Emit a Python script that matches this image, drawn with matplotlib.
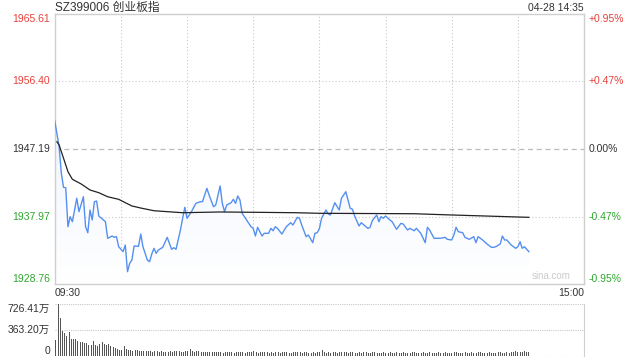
import numpy as np
import matplotlib.pyplot as plt
from matplotlib.colors import LinearSegmentedColormap
from matplotlib.transforms import blended_transform_factory

plt.rcParams['font.family'] = ['Liberation Sans', 'Noto Sans CJK SC', 'DejaVu Sans']

# header texts
title = 'SZ399006 创业板指'
stamp = '04-28 14:35'
start_label = '09:30'
end_label = '15:00'

# price axis (previous close in the middle)
prev_close = 1947.19
price_ticks = [1928.76, 1937.97, 1947.19, 1956.40, 1965.61]
pct_labels = ['-0.95%', '-0.47%', '0.00%', '+0.47%', '+0.95%']

# minute index (0 = 09:30, 240 = 15:00) and index value
price_min = [0, 2, 3, 4, 5, 6, 7, 8, 10, 11, 13, 14, 15, 16, 17, 18, 19, 20, 23, 24,
             26, 27, 28, 29, 31, 32, 33, 34, 35, 36, 38, 39, 40, 42, 43, 44, 45, 46, 47, 49,
             51, 53, 54, 55, 57, 58, 59, 60, 62, 64, 66, 67, 69, 70, 72, 73, 75, 76, 77, 78,
             80, 81, 82, 83, 84, 85, 87, 88, 89, 90, 91, 92, 93, 94, 95, 97, 98, 99, 100, 101,
             103, 105, 107, 108, 110, 111, 112, 114, 115, 117, 118, 119, 120, 121, 123, 124, 125, 127, 129, 130,
             132, 134, 135, 136, 138, 139, 142, 143, 144, 146, 147, 148, 149, 150, 152, 153, 155, 157, 158, 160,
             161, 163, 164, 166, 168, 169, 170, 172, 175, 177, 178, 180, 181, 182, 183, 185, 186, 188, 190, 191,
             192, 194, 196, 198, 199, 200, 202, 203, 204, 205, 207, 209, 210, 211, 212, 213, 215]
price = [1951.05, 1947.50, 1943.87, 1941.96, 1941.90, 1936.58, 1937.95, 1937.26, 1940.46, 1938.63,
         1940.67, 1936.58, 1935.76, 1938.86, 1937.50, 1939.99, 1940.09, 1938.04, 1937.26, 1935.00,
         1935.31, 1935.13, 1935.22, 1933.85, 1933.17, 1934.08, 1930.44, 1931.59, 1932.04, 1933.95,
         1933.90, 1935.58, 1933.85, 1932.04, 1931.80, 1932.85, 1933.63, 1932.95, 1933.40, 1933.77,
         1935.13, 1933.50, 1933.71, 1933.50, 1936.13, 1937.73, 1939.23, 1937.73, 1938.63, 1939.77,
         1939.99, 1940.00, 1941.82, 1940.91, 1939.31, 1939.54, 1942.14, 1939.77, 1938.63, 1939.54,
         1939.86, 1940.32, 1939.77, 1940.77, 1940.22, 1938.41, 1937.50, 1937.04, 1936.58, 1936.36,
         1935.31, 1936.50, 1935.90, 1935.31, 1935.68, 1935.68, 1936.36, 1936.03, 1936.58, 1936.36,
         1935.58, 1936.58, 1937.13, 1936.81, 1937.86, 1937.73, 1936.81, 1935.22, 1935.45, 1934.40,
         1935.68, 1935.76, 1936.30, 1937.73, 1938.86, 1938.31, 1938.18, 1939.86, 1938.86, 1940.46,
         1941.36, 1939.09, 1938.96, 1938.04, 1936.68, 1937.13, 1936.36, 1936.50, 1937.40, 1938.18,
         1937.26, 1937.95, 1937.73, 1938.04, 1937.50, 1937.26, 1936.23, 1937.04, 1936.95, 1936.13,
         1936.36, 1936.03, 1936.36, 1935.68, 1934.40, 1936.50, 1936.13, 1935.00, 1935.00, 1935.13,
         1934.86, 1934.77, 1935.45, 1936.50, 1935.90, 1935.76, 1935.13, 1934.86, 1935.22, 1934.40,
         1935.22, 1934.77, 1934.22, 1933.77, 1933.77, 1933.85, 1934.22, 1935.31, 1934.77, 1934.77,
         1934.08, 1933.63, 1933.85, 1934.53, 1933.63, 1933.85, 1933.17]

# average price line
avg_min = [1, 2, 4, 6, 8, 12, 16, 20, 24, 29, 32, 35, 39, 45, 55, 58, 75, 90, 109, 120, 163, 180, 215]
avg_price = [1948.18, 1947.73, 1945.92, 1944.09, 1943.05, 1942.41, 1941.59, 1941.22, 1940.67, 1940.32,
             1939.86, 1939.41, 1939.13, 1938.76, 1938.55, 1938.49, 1938.59, 1938.55, 1938.49, 1938.41,
             1938.35, 1938.18, 1937.86]

# volume per minute (万)
vol_ticks = [0, 363.20, 726.41]
vol_labels = ['0', '363.20万', '726.41万']
volume = [218, 726, 533, 354, 324, 276, 329, 232, 232, 232,
          203, 189, 189, 184, 184, 155, 145, 203, 145, 136,
          169, 189, 169, 155, 169, 136, 121, 111, 97, 87,
          82, 131, 97, 87, 82, 73, 82, 82, 73, 73,
          63, 73, 63, 63, 58, 68, 63, 58, 63, 58,
          53, 58, 68, 58, 63, 73, 63, 53, 58, 63,
          68, 97, 63, 58, 68, 63, 53, 58, 58, 48,
          53, 58, 48, 53, 58, 48, 44, 53, 48, 58,
          53, 44, 48, 58, 53, 48, 44, 48, 53, 58,
          63, 48, 44, 53, 58, 48, 53, 44, 48, 39,
          48, 53, 44, 48, 58, 48, 44, 39, 48, 53,
          58, 48, 44, 53, 48, 44, 39, 48, 44, 53,
          48, 87, 53, 44, 48, 44, 48, 53, 44, 48,
          53, 58, 48, 44, 53, 48, 44, 39, 48, 44,
          53, 48, 39, 44, 53, 48, 44, 39, 44, 48,
          39, 44, 48, 39, 44, 53, 44, 39, 48, 44,
          39, 44, 48, 53, 44, 39, 44, 48, 39, 44,
          48, 44, 39, 44, 53, 39, 44, 48, 44, 39,
          44, 48, 53, 44, 39, 44, 48, 39, 44, 48,
          39, 44, 48, 53, 44, 39, 44, 48, 44, 39,
          44, 53, 48, 44, 39, 58, 44, 48, 53, 63,
          48, 53, 58, 68, 48, 58]

RED = '#e8403a'
GREEN = '#2ea62e'
DARK = '#333333'
GRID = '#c8c8c8'

fig = plt.figure(figsize=(6.4, 3.6), dpi=100)
ax = fig.add_axes([0.0855, 0.2111, 0.827, 0.75])
axv = fig.add_axes([0.0855, 0.012, 0.827, 0.1427])

ymin, ymax = price_ticks[0], price_ticks[-1]
ax.set_xlim(0, 240)
ax.set_ylim(ymin, ymax)

# gradient fill under the price line
cmap = LinearSegmentedColormap.from_list('fade', ['#ffffff', '#e6eefc'])
grad = np.linspace(0, 1, 100).reshape(-1, 1)
img = ax.imshow(grad, extent=[0, 240, ymin, ymax], origin='lower', aspect='auto', cmap=cmap, zorder=1)
poly = ax.fill_between(price_min, price, ymin, color='none', lw=0)
img.set_clip_path(poly.get_paths()[0], transform=ax.transData)

ax.plot(price_min, price, color='#5590f0', lw=1, zorder=3)
ax.plot(avg_min, avg_price, color='#222222', lw=0.9, zorder=4)

# grid
for i in range(1, 8):
    ax.axvline(i * 30, color=GRID, lw=0.8, ls=(0, (1, 2)), zorder=0)
for t in price_ticks[1:-1]:
    if t == prev_close:
        ax.axhline(t, color='#bbbbbb', lw=0.9, ls=(0, (4, 3)), zorder=0)
    else:
        ax.axhline(t, color=GRID, lw=0.8, ls=(0, (1, 2)), zorder=0)

for s in ax.spines.values():
    s.set_color('#cfcfcf')
    s.set_linewidth(1)
ax.set_xticks([])
ax.set_yticks([])

left_tr = blended_transform_factory(fig.transFigure, ax.transData)
right_tr = blended_transform_factory(fig.transFigure, ax.transData)
for i, (t, lab) in enumerate(zip(price_ticks, pct_labels)):
    col = GREEN if t < prev_close else (RED if t > prev_close else DARK)
    va = 'bottom' if i == 0 else ('top' if i == len(price_ticks) - 1 else 'center')
    ax.text(50 / 640, t, f'{t:.2f}', transform=left_tr, ha='right', va=va, color=col, fontsize=7.5)
    ax.text(589 / 640, t, lab, transform=right_tr, ha='left', va=va, color=col, fontsize=7.5)

fig.text(55 / 640, 1 - 8 / 360, title, ha='left', va='center', fontsize=8.5, color=DARK)
fig.text(584 / 640, 1 - 8 / 360, stamp, ha='right', va='center', fontsize=7.5, color=DARK)
fig.text(55 / 640, 1 - 293 / 360, start_label, ha='left', va='center', fontsize=7.5, color=DARK)
fig.text(584 / 640, 1 - 293 / 360, end_label, ha='right', va='center', fontsize=7.5, color=DARK)
ax.text(0.975, 0.012, 'sina.com', transform=ax.transAxes, ha='right', va='bottom', fontsize=7, color='#cccccc')

# volume panel
axv.bar(np.arange(len(volume)), volume, width=0.45, color='#555555', align='center')
axv.set_xlim(-0.5, 240)
axv.set_ylim(0, vol_ticks[-1])
for t in vol_ticks:
    axv.axhline(t, color=GRID, lw=0.8, ls=(0, (1, 1)), zorder=0)
for s in ['left', 'top', 'bottom']:
    axv.spines[s].set_visible(False)
axv.spines['right'].set_color('#cfcfcf')
axv.set_xticks([])
axv.set_yticks([])
vol_tr = blended_transform_factory(fig.transFigure, axv.transData)
for i, (t, lab) in enumerate(zip(vol_ticks, vol_labels)):
    va = 'bottom' if i == 0 else ('top' if i == len(vol_ticks) - 1 else 'center')
    axv.text(50 / 640, t, lab, transform=vol_tr, ha='right', va=va, fontsize=7.5, color=DARK)

fig.savefig('out.png', dpi=100)
